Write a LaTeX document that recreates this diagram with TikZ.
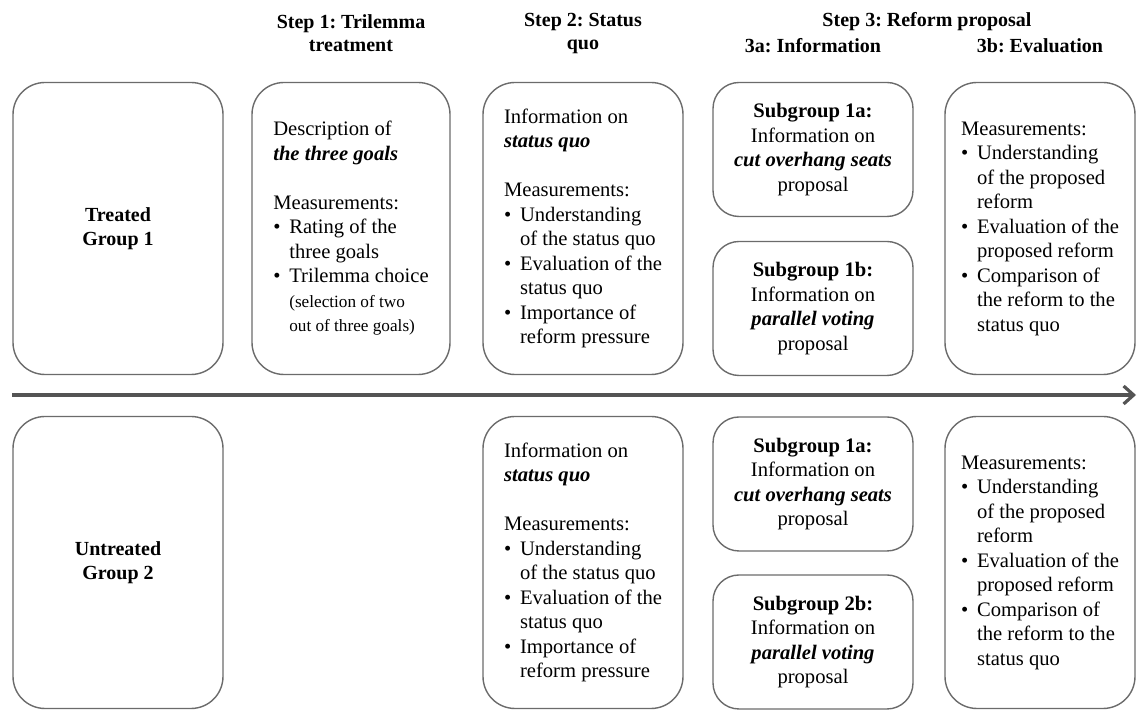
\documentclass[tikz,border=0pt]{standalone}
\usepackage{fontspec}
\setmainfont{Liberation Serif}
\usetikzlibrary{arrows.meta}
\definecolor{boxline}{gray}{0.42}
\definecolor{arrowgray}{gray}{0.33}
\frenchspacing
\newcommand{\bulitem}{\makebox[8pt][l]{\textbullet}}
\newcommand{\bulcont}{\hspace*{8pt}}
\newcommand{\smalltxt}[1]{{\fontsize{8.6}{11}\selectfont #1}}
\newcommand{\emphbi}[1]{\textbf{\textit{#1}}}
\begin{document}
\begin{tikzpicture}[x=0.5pt, y=-0.5pt,
    bigbox/.style={draw=boxline, line width=0.7pt, rounded corners=16pt,
        minimum height=146pt, inner sep=0pt, align=left,
        font=\fontsize{10.3}{12.25}\selectfont},
    subbox/.style={draw=boxline, line width=0.7pt, rounded corners=13pt,
        minimum width=100pt, minimum height=67pt, inner sep=0pt, align=center,
        font=\fontsize{10.3}{12.25}\selectfont},
    header/.style={align=center, font=\bfseries\fontsize{10}{11.5}\selectfont},
    timeline/.style={draw=arrowgray, line width=1.6pt,
        -{Straight Barb[length=5pt, width=9pt]}}]
    \useasboundingbox (0,0) rectangle (1137,710);

    % Column headers
    \node[header] (hstep1) at (351,33.5) {Step 1: Trilemma\\treatment};
    \node[header] (hstep2) at (583,33.5) {Step 2: Status\\quo};
    \node[header] (hstep3) at (927,22) {Step 3: Reform proposal};
    \node[header] (hinfo) at (813,46) {3a: Information};
    \node[header] (heval) at (1040,46) {3b: Evaluation};

    % Step 1 only for the treated group
    \node[bigbox, minimum width=99pt] (trilemma) at (351,228.5) {%
        Description of\\
        \emphbi{the three goals}\\[12.25pt]
        Measurements:\\
        \bulitem Rating of the\\
        \bulcont three goals\\
        \bulitem Trilemma choice\\
        \bulcont\smalltxt{(selection of two}\\
        \bulcont\smalltxt{out of three goals)}};

    % Both groups: status quo, information, evaluation
    \foreach \row/\yc/\ya/\yb/\sub/\grp in {1/228.5/149.5/308.5/1b/Treated\\Group 1,
                                           2/562.5/484/642/2b/Untreated\\Group 2} {
        \node[bigbox, minimum width=105pt, align=center, font=\bfseries\fontsize{10}{12.25}\selectfont]
            (group\row) at (118,\yc) {\grp};
        \node[bigbox, minimum width=100pt] (statusquo\row) at (583,\yc) {%
            Information on\\
            \emphbi{status quo}\\[12.25pt]
            Measurements:\\
            \bulitem Understanding\\
            \bulcont of the status quo\\
            \bulitem Evaluation of the\\
            \bulcont status quo\\
            \bulitem Importance of\\
            \bulcont reform pressure};
        \node[subbox] (overhang\row) at (813,\ya) {%
            \textbf{Subgroup 1a:}\\
            Information on\\
            \emphbi{cut overhang seats}\\
            proposal};
        \node[subbox] (parallel\row) at (813,\yb) {%
            \textbf{Subgroup \sub:}\\
            Information on\\
            \emphbi{parallel voting}\\
            proposal};
        \node[bigbox, minimum width=95pt] (evaluation\row) at (1040,\yc) {%
            Measurements:\\
            \bulitem Understanding\\
            \bulcont of the proposed\\
            \bulcont reform\\
            \bulitem Evaluation of the\\
            \bulcont proposed reform\\
            \bulitem Comparison of\\
            \bulcont the reform to the\\
            \bulcont status quo};
    }

    % Time axis between the groups
    \coordinate (tstart) at (12,395);
    \coordinate (tend) at (1136,395);
    \draw[timeline] (tstart) -- (tend);
\end{tikzpicture}
\end{document}
